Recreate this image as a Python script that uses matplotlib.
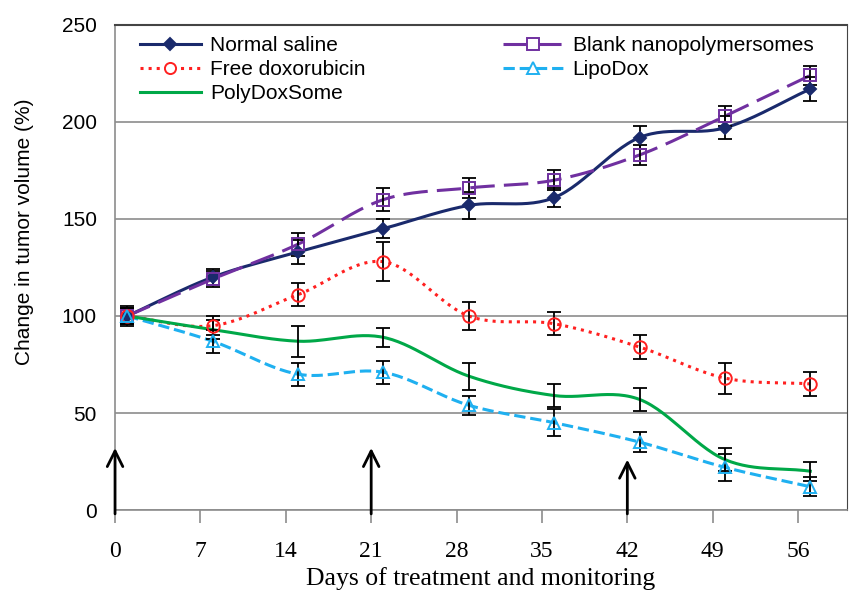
import numpy as np
import matplotlib
matplotlib.use("Agg")
import matplotlib.pyplot as plt
from matplotlib.lines import Line2D

days = [1, 8, 15, 22, 29, 36, 43, 50, 57]
xticks = [0, 7, 14, 21, 28, 35, 42, 49, 56]
yticks = [0, 50, 100, 150, 200, 250]

saline = [100, 120, 133, 145, 157, 161, 192, 197, 217]
saline_err = [5, 4, 6, 5, 7, 5, 6, 6, 6]
blank = [100, 119, 137, 160, 166, 170, 183, 203, 224]
blank_err = [4, 4, 6, 6, 5, 5, 5, 5, 5]
freedox = [100, 95, 111, 128, 100, 96, 84, 68, 65]
freedox_err = [4, 5, 6, 10, 7, 6, 6, 8, 6]
lipodox = [100, 87, 70, 71, 54, 45, 35, 22, 12]
lipodox_err = [4, 6, 6, 6, 5, 7, 5, 7, 5]
polydox = [100, 93, 87, 89, 69, 59, 57, 26, 20]
polydox_err = [4, 5, 8, 5, 7, 6, 6, 6, 5]

arrow_days = [0, 21, 42]
arrow_tops = [32, 32, 26]


def smooth(x, y, n=30):
    # catmull-rom path through the points, like excel's smoothed line
    x = np.asarray(x, float)
    y = np.asarray(y, float)
    px = np.concatenate([[2 * x[0] - x[1]], x, [2 * x[-1] - x[-2]]])
    py = np.concatenate([[2 * y[0] - y[1]], y, [2 * y[-1] - y[-2]]])
    xs, ys = [], []
    t = np.linspace(0, 1, n)
    for i in range(1, len(px) - 2):
        for p, out in ((px, xs), (py, ys)):
            p0, p1, p2, p3 = p[i - 1], p[i], p[i + 1], p[i + 2]
            out.extend(0.5 * ((2 * p1) + (-p0 + p2) * t
                              + (2 * p0 - 5 * p1 + 4 * p2 - p3) * t ** 2
                              + (-p0 + 3 * p1 - 3 * p2 + p3) * t ** 3))
    return xs, ys


fig = plt.figure(figsize=(8.49, 5.92), dpi=100)
ax = fig.add_axes([0.1355, 0.1385, 0.862, 0.8193])

series = [
    (saline, saline_err, '#1a2a6c', '-', 'D', True, 'Normal saline', (None, None)),
    (blank, blank_err, '#7030a0', '-', 's', False, 'Blank nanopolymersomes', (8, 3)),
    (freedox, freedox_err, '#ff2020', ':', 'o', False, 'Free doxorubicin', (None, None)),
    (lipodox, lipodox_err, '#1fb0f0', '--', '^', False, 'LipoDox', (None, None)),
    (polydox, polydox_err, '#00a848', '-', None, False, 'PolyDoxSome', (None, None)),
]

handles = {}
for vals, err, col, ls, mk, filled, label, dash in series:
    sx, sy = smooth(days, vals)
    line, = ax.plot(sx, sy, color=col, lw=2.2, ls=ls, zorder=3)
    if dash[0] is not None:
        line.set_dashes(dash)
    ax.errorbar(days, vals, yerr=err, fmt='none', ecolor='black', elinewidth=1.3,
                capsize=5, capthick=1.3, zorder=4)
    if mk is not None:
        ax.plot(days, vals, ls='none', marker=mk, ms=6 if mk == 'D' else 9,
                mfc=col if filled else 'none', mec=col, mew=1.4, zorder=5)
    h = Line2D([], [], color=col, lw=2.2, ls=ls, marker=mk,
               ms=6 if mk == 'D' else 8, mfc=col if filled else 'white',
               mec=col, mew=1.4)
    if dash[0] is not None:
        h.set_dashes(dash)
    handles[label] = h

for d, top in zip(arrow_days, arrow_tops):
    ax.annotate('', xy=(d, top), xytext=(d, -2),
                arrowprops=dict(arrowstyle='->', lw=2, color='black',
                                mutation_scale=28, shrinkA=0, shrinkB=0),
                annotation_clip=False, zorder=6)

order = ['Normal saline', 'Free doxorubicin', 'PolyDoxSome',
         'Blank nanopolymersomes', 'LipoDox']
leg = ax.legend([handles[k] for k in order], order, loc='upper left',
                bbox_to_anchor=(0.020, 0.998), ncol=2, frameon=False,
                borderpad=0, handlelength=2.9, columnspacing=6.6, labelspacing=0.23,
                handletextpad=0.45, prop={'family': 'Liberation Sans', 'size': 15})

ax.set_xlim(0, 60)
ax.set_ylim(0, 250)
ax.set_xticks(xticks)
ax.set_yticks(yticks)
ax.grid(axis='y', color='#8c8c8c', lw=1.2)
ax.set_axisbelow(True)
for s in ['left', 'bottom']:
    ax.spines[s].set_color('#8c8c8c')
    ax.spines[s].set_linewidth(1.2)
ax.spines['top'].set_color('#444444')
ax.spines['top'].set_linewidth(1.5)
ax.spines['right'].set_color('#444444')
ax.tick_params(axis='x', direction='out', length=9, width=1.2, color='#8c8c8c', pad=13)
ax.tick_params(axis='y', length=0, pad=13)
for lab in ax.get_xticklabels():
    lab.set_family('Liberation Serif')
    lab.set_fontsize(17)
for lab in ax.get_yticklabels():
    lab.set_family('Liberation Sans')
    lab.set_fontsize(15)

ax.set_xlabel('Days of treatment and monitoring', family='Liberation Serif',
              fontsize=18.5, labelpad=4)
ax.set_ylabel('Change in tumor volume (%)', family='Liberation Sans', fontsize=15)
ax.yaxis.set_label_coords(-0.111, 0.573)

fig.savefig('out.png', dpi=100)
